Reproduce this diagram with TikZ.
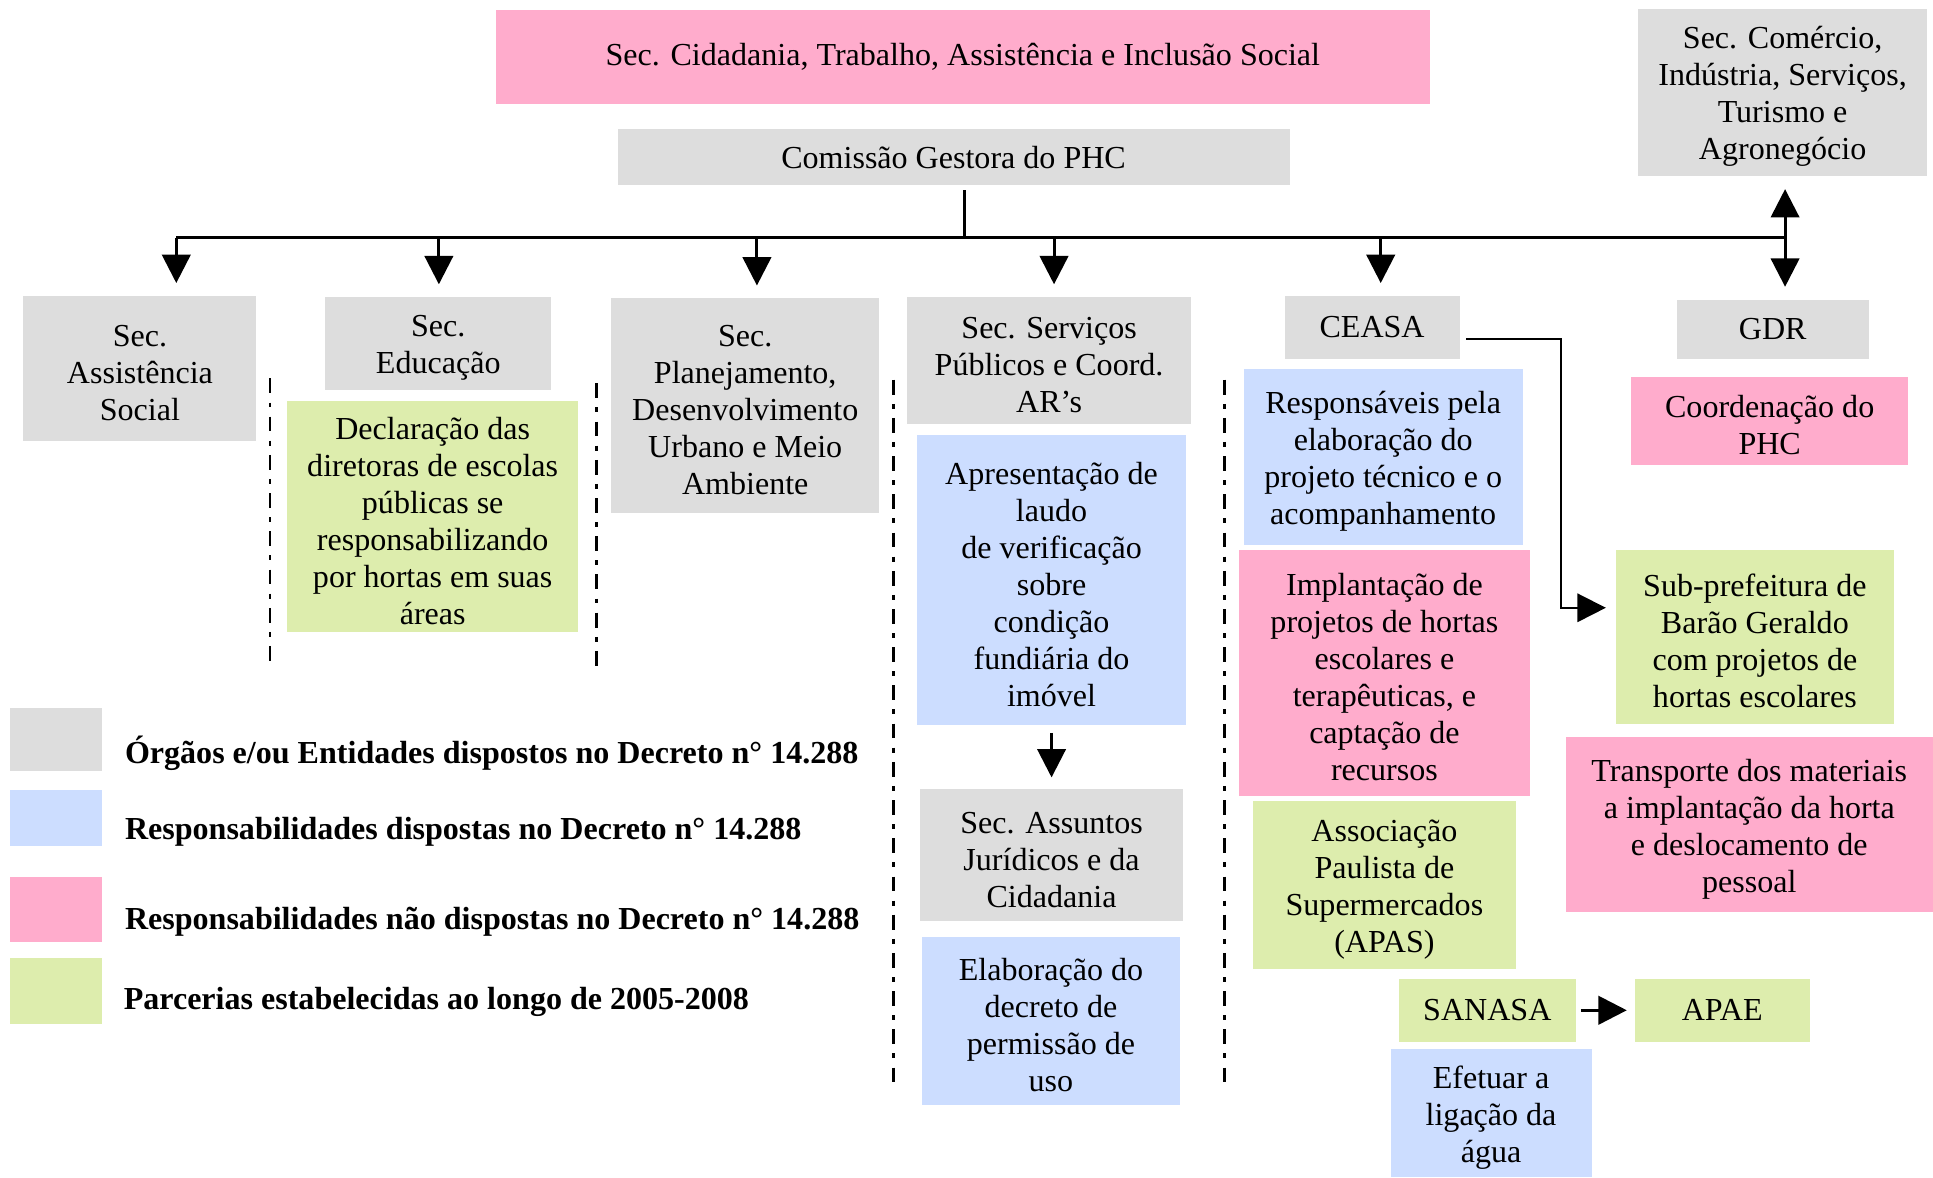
\documentclass[tikz,border=0pt]{standalone}
\usepackage{fontspec}
\setmainfont{Liberation Serif}
\usetikzlibrary{arrows.meta}
\definecolor{orgao}{HTML}{DDDDDD}
\definecolor{resp}{HTML}{CCDDFF}
\definecolor{naoresp}{HTML}{FFACCC}
\definecolor{parceria}{HTML}{DDEDAD}
\newcommand{\fl}{\rule{0pt}{12.5pt}}
\begin{document}
\begin{tikzpicture}[x=0.5pt,y=-0.5pt]
		\tikzstyle{every node}+=[inner sep=0pt]
		\tikzstyle{box}=[align=center, font=\fontsize{13}{15}\selectfont]
		\tikzstyle{legtext}=[anchor=base west, font=\fontsize{13}{15}\selectfont\bfseries]
		\tikzstyle{conn}=[black, line width=1.2pt]
		\tikzstyle{arr}=[conn, -{Triangle[length=11.5pt,width=11.5pt]}]
		\tikzstyle{sep}=[black, line width=1.2pt, dash pattern=on 6pt off 3.75pt on 2pt off 3.75pt]
		\useasboundingbox (0,0) rectangle (1568,955);
		\node [box, fill=naoresp, minimum width=379pt, minimum height=38pt] (cidadania) at (781,46) {Sec. Cidadania, Trabalho, Assistência e Inclusão Social};
		\node [box, fill=orgao, minimum width=272.5pt, minimum height=22.5pt] (comissao) at (773.5,127.5) {Comissão Gestora do PHC};
		\node [box, fill=orgao, minimum width=117pt, minimum height=68pt] (comercio) at (1446,75) {\fl Sec. Comércio,\\Indústria, Serviços,\\Turismo e\\Agronegócio};
		\node [box, fill=orgao, minimum width=94.5pt, minimum height=59pt] (assist) at (113.5,299) {\fl Sec.\\Assistência\\Social};
		\node [box, fill=orgao, minimum width=91.5pt, minimum height=37.5pt] (educ) at (355.5,278.5) {\fl Sec.\\Educação};
		\node [box, fill=parceria, minimum width=118pt, minimum height=94pt] (declar) at (351,419) {\fl Declaração das\\diretoras de escolas\\públicas se\\responsabilizando\\por hortas em suas\\áreas};
		\node [box, fill=orgao, minimum width=108.5pt, minimum height=87pt] (planej) at (604.5,329) {\fl Sec.\\Planejamento,\\Desenvolvimento\\Urbano e Meio\\Ambiente};
		\node [box, fill=orgao, minimum width=115pt, minimum height=51.5pt] (servicos) at (851,292.5) {\fl Sec. Serviços\\Públicos e Coord.\\AR’s};
		\node [box, fill=resp, minimum width=109pt, minimum height=117.5pt] (laudo) at (853,470.5) {\fl Apresentação de\\laudo\\de verificação\\sobre\\condição\\fundiária do\\imóvel};
		\node [box, fill=orgao, minimum width=107pt, minimum height=53.5pt] (juridicos) at (853,693.5) {\fl Sec. Assuntos\\Jurídicos e da\\Cidadania};
		\node [box, fill=resp, minimum width=104.5pt, minimum height=68pt] (decreto) at (852.5,828) {\fl Elaboração do\\decreto de\\permissão de\\uso};
		\node [box, fill=orgao, minimum width=71pt, minimum height=25.5pt] (ceasa) at (1113,265.5) {CEASA};
		\node [box, fill=resp, minimum width=113pt, minimum height=71.5pt] (projeto) at (1122,370.5) {\fl Responsáveis pela\\elaboração do\\projeto técnico e o\\acompanhamento};
		\node [box, fill=naoresp, minimum width=118pt, minimum height=100pt] (implant) at (1123,546) {\fl Implantação de\\projetos de hortas\\escolares e\\terapêuticas, e\\captação de\\recursos};
		\node [box, fill=parceria, minimum width=107pt, minimum height=68pt] (apas) at (1123,718) {\fl Associação\\Paulista de\\Supermercados\\(APAS)};
		\node [box, fill=parceria, minimum width=71.5pt, minimum height=25.5pt] (sanasa) at (1206.5,819.5) {SANASA};
		\node [box, fill=parceria, minimum width=71pt, minimum height=25.5pt] (apae) at (1397,819.5) {APAE};
		\node [box, fill=resp, minimum width=81.5pt, minimum height=52pt] (agua) at (1209.5,903) {\fl Efetuar a\\ligação da\\água};
		\node [box, fill=orgao, minimum width=78pt, minimum height=24pt] (gdr) at (1438,267) {GDR};
		\node [box, fill=naoresp, minimum width=112.5pt, minimum height=35.5pt] (coord) at (1435.5,341.5) {\fl Coordenação do\\PHC};
		\node [box, fill=parceria, minimum width=112.5pt, minimum height=70.5pt] (subpref) at (1423.5,516.5) {\fl Sub-prefeitura de\\Barão Geraldo\\com projetos de\\hortas escolares};
		\node [box, fill=naoresp, minimum width=149pt, minimum height=71pt] (transp) at (1419,669) {\fl Transporte dos materiais\\a implantação da horta\\e deslocamento de\\pessoal};
		\coordinate (junction) at (782,193);
		\coordinate (barL) at (143,193);
		\coordinate (barR) at (1448,193);
		\coordinate (elbow) at (1266,275);
		\coordinate (elbow2) at (1266,493);
		\draw [conn, shorten <=2pt] (comissao.south -| junction) -- (junction);
		\draw [conn] (barL) -- (barR);
		\foreach \x/\n in {143/assist, 356/educ, 614/planej, 855/servicos, 1120/ceasa, 1448/gdr} {
			\coordinate (top-\n) at (\x,193);
			\draw [arr, shorten >=5pt] (top-\n) -- (top-\n |- \n.north);
		}
		\draw [arr, shorten >=5pt] (top-gdr) -- (top-gdr |- comercio.south);
		\draw [arr, shorten <=3pt, shorten >=4.5pt] (laudo.south) -- (juridicos.north);
		\draw [arr, line width=0.8pt, shorten <=2.5pt, shorten >=4pt] (ceasa.east |- elbow) -- (elbow) -- (elbow2) -- (elbow2 -| subpref.west);
		\draw [arr, shorten <=2pt, shorten >=3pt] (sanasa) -- (apae);
		\draw [sep] (219,307) -- (219,543);
		\draw [sep] (484,311) -- (484,543);
		\draw [sep] (725,308) -- (725,883);
		\draw [sep] (993,308) -- (993,883);
		\node [fill=orgao, minimum width=37.5pt, minimum height=25.5pt] (leg1) at (45.5,599.5) {};
		\node [fill=resp, minimum width=37.5pt, minimum height=22.5pt] (leg2) at (45.5,663.5) {};
		\node [fill=naoresp, minimum width=37.5pt, minimum height=26.5pt] (leg3) at (45.5,737.5) {};
		\node [fill=parceria, minimum width=37.5pt, minimum height=27pt] (leg4) at (45.5,804) {};
		\node [legtext] (legtext1) at (101,619) {Órgãos e/ou Entidades dispostos no Decreto n° 14.288};
		\node [legtext] (legtext2) at (101,681) {Responsabilidades dispostas no Decreto n° 14.288};
		\node [legtext] (legtext3) at (101,754) {Responsabilidades não dispostas no Decreto n° 14.288};
		\node [legtext] (legtext4) at (100,819) {Parcerias estabelecidas ao longo de 2005-2008};
\end{tikzpicture}
\end{document}
